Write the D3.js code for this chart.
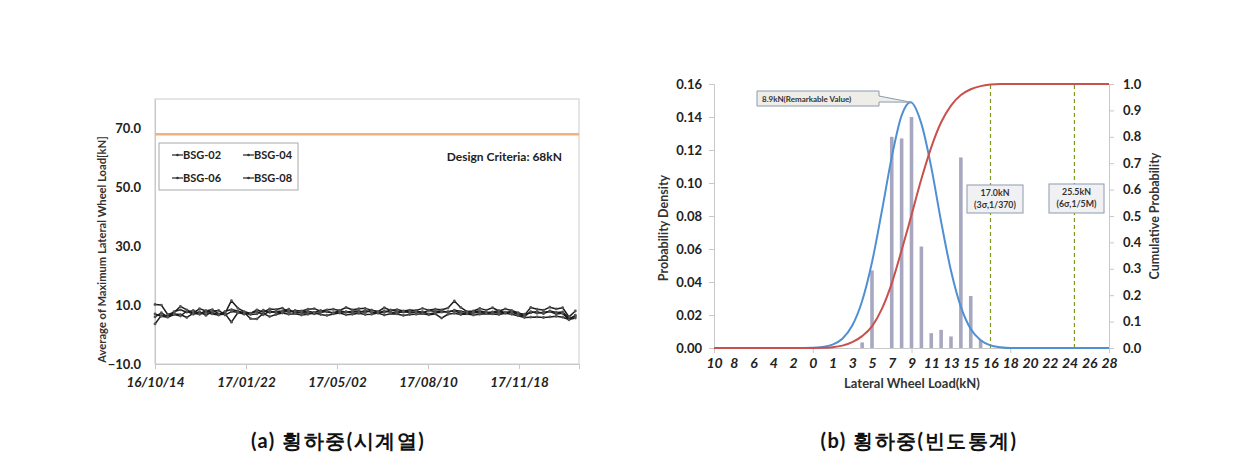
<!DOCTYPE html>
<html>
<head>
<meta charset="utf-8">
<script src="https://cdn.jsdelivr.net/npm/d3@7"></script>
<style>
  html, body { margin: 0; padding: 0; background: #fff; }
  svg { display: block; }
  text { font-family: Lato, "Open Sans", "Liberation Sans", sans-serif; }
</style>
</head>
<body>
<svg id="chart" width="1235" height="472"></svg>
<script>
// ---------------- DATA ----------------
// (a) time series: weekly averages of maximum lateral wheel load [kN]
const seriesNames = ["BSG-02", "BSG-04", "BSG-06", "BSG-08"];
const startDate = "2016-10-14";
const bsg02 = [10.2,10.0,6.8,7.5,9.6,8.4,7.3,8.8,8.0,8.5,7.0,7.2,11.5,9.0,7.8,7.2,8.4,7.6,8.7,8.5,9.0,7.6,8.2,8.0,8.6,8.8,7.9,8.4,8.6,8.2,9.2,8.4,8.8,8.9,8.3,7.8,9.1,8.2,8.5,8.0,8.3,8.2,8.9,8.3,8.6,8.4,9.0,11.4,9.2,7.8,8.0,8.9,8.3,9.1,8.0,8.7,8.2,7.4,6.6,9.2,8.6,8.3,9.3,8.7,9.1,6.0,8.0];
const bsg04 = [3.6,6.5,6.2,7.0,6.8,5.8,7.2,6.9,7.5,7.0,6.6,7.1,4.2,7.4,7.6,5.4,5.3,7.2,6.1,6.8,7.3,6.9,7.1,6.6,6.9,7.4,6.8,6.5,7.0,7.3,6.7,6.9,7.2,6.8,6.9,7.3,6.6,7.1,7.0,6.5,6.8,6.9,7.1,6.7,7.0,5.6,6.9,7.2,6.8,7.0,6.6,6.9,7.1,7.0,6.8,7.2,6.9,6.4,5.8,5.9,6.0,5.8,6.0,6.2,5.9,5.1,5.6];
const bsg06 = [6.0,7.4,6.0,7.8,8.4,7.6,8.2,7.0,8.1,7.5,6.7,7.9,8.5,8.0,7.3,6.8,7.0,8.3,7.5,7.8,8.0,8.6,7.2,7.6,7.9,7.5,8.2,7.7,7.4,8.1,7.6,7.9,8.0,7.5,8.3,7.7,7.5,8.4,7.8,7.6,7.9,8.1,7.4,8.2,7.8,8.0,7.6,8.3,7.9,7.5,7.8,8.0,7.6,7.7,8.1,7.4,7.9,7.2,6.9,7.4,7.8,7.1,8.0,7.5,7.7,5.5,6.2];
const bsg08 = [7.0,6.2,5.9,6.8,6.3,8.0,6.9,7.8,6.5,7.9,8.2,6.6,7.8,7.6,6.9,7.3,7.8,6.7,8.0,7.4,7.6,7.9,7.8,7.3,7.4,7.0,7.5,7.9,7.2,7.5,7.8,7.3,7.4,8.2,7.6,7.3,8.0,7.6,7.2,7.9,7.4,7.5,7.8,7.0,7.4,7.6,7.8,8.0,7.3,7.1,7.4,7.5,7.2,7.6,7.3,7.5,7.6,6.9,6.2,7.8,7.2,7.6,7.8,7.0,7.2,5.0,6.6];
const designCriteria = 68;
const leftYTicks = [-10, 10, 30, 50, 70];
const leftXTickDates = ["2016-10-14", "2017-01-22", "2017-05-02", "2017-08-10", "2017-11-18"];

// (b) frequency statistics
const barLoads = [4, 5, 7, 8, 9, 10, 11, 12, 13, 14, 15, 16];
const barDensity = [0.0034, 0.047, 0.128, 0.127, 0.140, 0.0615, 0.009, 0.011, 0.007, 0.1155, 0.0315, 0.005];
const curveLoads = [-11, -3, -1, 0, 1, 2, 3, 4, 5, 6, 7, 8, 8.9, 10, 11, 12, 13, 14, 15, 16, 17, 18, 19, 29];
const pdfValues = [0, 0, 0.0002, 0.0006, 0.002, 0.0056, 0.0136, 0.0285, 0.052, 0.083, 0.1157, 0.141, 0.149, 0.136, 0.1096, 0.0766, 0.0468, 0.0249, 0.0115, 0.0047, 0.0016, 0.0005, 0, 0];
const cdfValues = [0, 0, 0, 0.0005, 0.003, 0.009, 0.022, 0.045, 0.082, 0.148, 0.245, 0.37, 0.49, 0.64, 0.76, 0.855, 0.918, 0.958, 0.98, 0.992, 0.998, 1.0, 1.0, 1.0];
const rightXTickValues = [-11,-9,-7,-5,-3,-1,1,3,5,7,9,11,13,15,17,19,21,23,25,27,29];
const rightXTickLabels = ["10","8","6","4","2","0","1","3","5","7","9","11","13","15","16","18","20","22","24","26","28"];
const densityTicks = [0, 0.02, 0.04, 0.06, 0.08, 0.10, 0.12, 0.14, 0.16];
const cumulativeTicks = [0, 0.1, 0.2, 0.3, 0.4, 0.5, 0.6, 0.7, 0.8, 0.9, 1.0];
const limitLoads = [17.0, 25.5];
const limitLabels = [["17.0kN", "(3σ,1/370)"], ["25.5kN", "(6σ,1/5M)"]];
const peakLoad = 8.9, peakDensity = 0.149;
const peakLabel = "8.9kN(Remarkable Value)";
const captions = ["(a)  횡하중(시계열)", "(b)  횡하중(빈도통계)"];

// ---------------- DRAW ----------------
const svg = d3.select("#chart");
svg.append("rect").attr("width", 1235).attr("height", 472).attr("fill", "#fff");

const axisGrey = "#c8c8c8";
const parse = d3.timeParse("%Y-%m-%d");
const fmtDate = d3.timeFormat("%y/%m/%d");

// ===== Left chart =====
const L = { x0: 155, x1: 579, y0: 99, y1: 364 };
const xL = d3.scaleTime().domain([parse("2016-10-14"), parse("2018-01-23")]).range([L.x0, L.x1]);
const yL = d3.scaleLinear().domain([-10, 80]).range([L.y1, L.y0]);

const gL = svg.append("g");
gL.append("rect").attr("x", L.x0).attr("y", L.y0).attr("width", L.x1 - L.x0).attr("height", L.y1 - L.y0)
  .attr("fill", "none").attr("stroke", "#d4d4d4").attr("stroke-width", 1.2);

const yAxisL = d3.axisLeft(yL).tickValues(leftYTicks).tickFormat(d3.format(".1f")).tickSize(0).tickPadding(14);
const gyL = gL.append("g").attr("transform", `translate(${L.x0},0)`).call(yAxisL);
gyL.select(".domain").attr("stroke", axisGrey);
gyL.selectAll("text").attr("font-size", 13).attr("font-weight", "bold").attr("fill", "#222");

const xAxisL = d3.axisBottom(xL).tickValues(leftXTickDates.map(parse)).tickFormat(fmtDate).tickSize(5).tickPadding(8);
const gxL = gL.append("g").attr("transform", `translate(0,${L.y1})`).call(xAxisL);
gxL.select(".domain").attr("stroke", axisGrey);
gxL.selectAll(".tick line").attr("stroke", axisGrey);
gxL.selectAll("text").attr("font-size", 13.5).attr("font-weight", "bold").attr("font-style", "italic").attr("fill", "#222");

gL.append("text").attr("transform", `translate(106,${(L.y0 + L.y1) / 2 + 18}) rotate(-90)`)
  .attr("text-anchor", "middle").attr("font-size", 11.2).attr("font-weight", "bold").attr("fill", "#333")
  .text("Average of Maximum Lateral Wheel Load[kN]");

gL.append("line").attr("x1", L.x0).attr("x2", L.x1).attr("y1", yL(designCriteria)).attr("y2", yL(designCriteria))
  .attr("stroke", "#F4B07A").attr("stroke-width", 2.5);
gL.append("text").attr("x", 562).attr("y", 161).attr("text-anchor", "end")
  .attr("font-size", 12).attr("font-weight", "bold").attr("fill", "#222").text("Design Criteria: 68kN");

const allSeries = [bsg02, bsg04, bsg06, bsg08];
const sd = parse(startDate);
const line = d3.line().x(d => xL(d.date)).y(d => yL(d.v));
allSeries.forEach((vals) => {
  const pts = vals.map((v, i) => ({ date: d3.timeDay.offset(sd, 7 * i), v }));
  gL.append("path").datum(pts).attr("d", line).attr("fill", "none")
    .attr("stroke", "#1c1c1c").attr("stroke-width", 1.5).attr("stroke-linejoin", "round");
  gL.append("g").selectAll("circle").data(pts).join("circle")
    .attr("cx", d => xL(d.date)).attr("cy", d => yL(d.v)).attr("r", 1.4).attr("fill", "#555");
});

const lg = gL.append("g");
lg.append("rect").attr("x", 159).attr("y", 143).attr("width", 139).attr("height", 47)
  .attr("fill", "#fff").attr("stroke", "#a8a8a8").attr("stroke-width", 1);
const legendPos = [[172, 155], [243, 155], [172, 178], [243, 178]];
seriesNames.forEach((n, i) => {
  const [lx, ly] = legendPos[i];
  lg.append("line").attr("x1", lx).attr("x2", lx + 11).attr("y1", ly).attr("y2", ly)
    .attr("stroke", "#333").attr("stroke-width", 1.3);
  lg.append("circle").attr("cx", lx + 5.5).attr("cy", ly).attr("r", 1.3).attr("fill", "#333");
  lg.append("text").attr("x", lx + 11).attr("y", ly + 4).attr("font-size", 11).attr("font-weight", "bold")
    .attr("fill", "#222").text(n);
});

// ===== Right chart =====
const R = { x0: 714, x1: 1109, y0: 84, y1: 348 };
const xR = d3.scaleLinear().domain([-11, 29]).range([R.x0, R.x1]);
const yP = d3.scaleLinear().domain([0, 0.16]).range([R.y1, R.y0]);
const yC = d3.scaleLinear().domain([0, 1]).range([R.y1, R.y0]);
const gR = svg.append("g");

const gyP = gR.append("g").attr("transform", `translate(${R.x0},0)`)
  .call(d3.axisLeft(yP).tickValues(densityTicks).tickFormat(d3.format(".2f")).tickSize(5).tickPadding(7));
const gyC = gR.append("g").attr("transform", `translate(${R.x1},0)`)
  .call(d3.axisRight(yC).tickValues(cumulativeTicks).tickFormat(d3.format(".1f")).tickSize(5).tickPadding(9));
const gxR = gR.append("g").attr("transform", `translate(0,${R.y1})`)
  .call(d3.axisBottom(xR).tickValues(rightXTickValues).tickFormat((d, i) => rightXTickLabels[i]).tickSize(0).tickPadding(10));
const gxRm = gR.append("g").attr("transform", `translate(0,${R.y1})`)
  .call(d3.axisBottom(xR).tickValues([-11, -1, 9, 19, 29]).tickFormat("").tickSize(5));
[gyP, gyC, gxR, gxRm].forEach(g => {
  g.select(".domain").attr("stroke", axisGrey);
  g.selectAll(".tick line").attr("stroke", axisGrey);
});
[gyP, gyC].forEach(g => g.selectAll("text").attr("font-size", 13).attr("font-weight", "bold").attr("fill", "#222"));
gxR.selectAll("text").attr("font-size", 14).attr("font-weight", "bold").attr("font-style", "italic").attr("fill", "#222");

gR.append("text").attr("transform", `translate(668,228) rotate(-90)`).attr("text-anchor", "middle")
  .attr("font-size", 12.5).attr("font-weight", "bold").attr("fill", "#333").text("Probability Density");
gR.append("text").attr("transform", `translate(1159,216) rotate(-90)`).attr("text-anchor", "middle")
  .attr("font-size", 12.5).attr("font-weight", "bold").attr("fill", "#333").text("Cumulative Probability");
gR.append("text").attr("x", 912).attr("y", 388).attr("text-anchor", "middle")
  .attr("font-size", 13).attr("font-weight", "bold").attr("fill", "#333").text("Lateral Wheel Load(kN)");

gR.append("g").selectAll("rect").data(barLoads).join("rect")
  .attr("x", d => xR(d) - 1.8).attr("width", 3.6)
  .attr("y", (d, i) => yP(barDensity[i])).attr("height", (d, i) => yP(0) - yP(barDensity[i]))
  .attr("fill", "#A7A8C0");

limitLoads.forEach(v => {
  gR.append("line").attr("x1", xR(v)).attr("x2", xR(v)).attr("y1", yP(0)).attr("y2", yP(0.16))
    .attr("stroke", "#7F9A22").attr("stroke-width", 1.2).attr("stroke-dasharray", "4,3");
});

const pdfPts = curveLoads.map((x, i) => ({ x, y: pdfValues[i] }));
const cdfPts = curveLoads.map((x, i) => ({ x, y: cdfValues[i] }));
gR.append("path").datum(pdfPts)
  .attr("d", d3.line().x(d => xR(d.x)).y(d => yP(d.y)).curve(d3.curveMonotoneX))
  .attr("fill", "none").attr("stroke", "#4F8FD4").attr("stroke-width", 2);
gR.append("path").datum(cdfPts)
  .attr("d", d3.line().x(d => xR(d.x)).y(d => yC(d.y)).curve(d3.curveMonotoneX))
  .attr("fill", "none").attr("stroke", "#C9504D").attr("stroke-width", 2);

const px = xR(peakLoad), py = yP(peakDensity);
const cb = { x: 757, y: 91, w: 122, h: 15 };
gR.append("path")
  .attr("d", `M${cb.x},${cb.y} H${cb.x + cb.w} V${cb.y + 5} L${px},${py} L${cb.x + cb.w},${cb.y + 11} V${cb.y + cb.h} H${cb.x} Z`)
  .attr("fill", "#EEEDE7").attr("stroke", "#8a9bb0").attr("stroke-width", 1);
gR.append("text").attr("x", cb.x + 5).attr("y", cb.y + 10.5).attr("font-size", 8).attr("font-weight", "bold")
  .attr("fill", "#333").text(peakLabel);

const boxes = [{ x: 967, y: 185, w: 56, h: 28 }, { x: 1049, y: 184, w: 55, h: 29 }];
boxes.forEach((b, i) => {
  gR.append("rect").attr("x", b.x).attr("y", b.y).attr("width", b.w).attr("height", b.h)
    .attr("fill", "#F1F1F3").attr("stroke", "#8a9bb0").attr("stroke-width", 1);
  limitLabels[i].forEach((t, j) => {
    gR.append("text").attr("x", b.x + b.w / 2).attr("y", b.y + 11 + j * 12).attr("text-anchor", "middle")
      .attr("font-size", 8.8).attr("font-weight", "bold").attr("fill", "#333").text(t);
  });
});

// captions
[[338, captions[0]], [919, captions[1]]].forEach(([cx, t]) => {
  svg.append("text").attr("x", cx).attr("y", 448).attr("text-anchor", "middle")
    .attr("font-family", "'Noto Sans CJK KR', sans-serif").attr("font-size", 20).attr("font-weight", "bold")
    .attr("letter-spacing", 1.5).attr("fill", "#111").text(t);
});
</script>
</body>
</html>
